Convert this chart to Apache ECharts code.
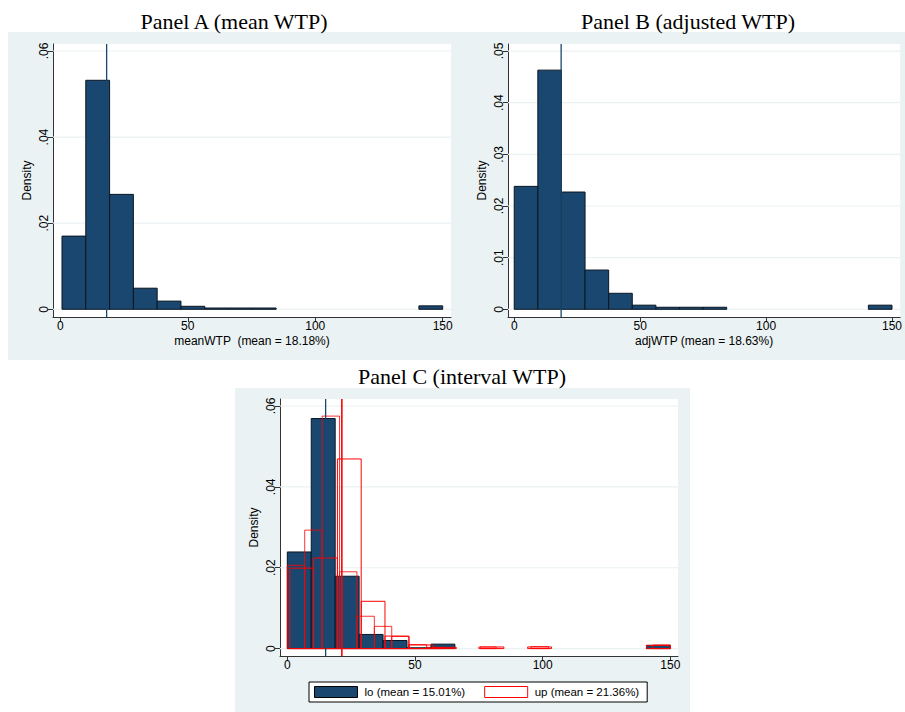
<!DOCTYPE html>
<html><head><meta charset="utf-8">
<script src="https://cdn.jsdelivr.net/npm/echarts@6/dist/echarts.min.js"></script>
<style>html,body{margin:0;padding:0;background:#fff}#c{width:905px;height:712px}</style>
</head><body><div id="c"></div>
<script>
// ---------- data ----------
// Panel A: meanWTP histogram (16 bins)
const aBinStart = 0.67, aBinWidth = 9.333;
const aDensity = [0.0170, 0.0532, 0.0267, 0.0049, 0.0019, 0.0007, 0.0003, 0.0003, 0.0003, 0, 0, 0, 0, 0, 0, 0.0008];
const aMean = 18.18;
// Panel B: adjWTP histogram (16 bins)
const bBinStart = 0, bBinWidth = 9.375;
const bDensity = [0.0238, 0.0463, 0.0227, 0.0076, 0.0031, 0.0008, 0.0004, 0.0004, 0.0004, 0, 0, 0, 0, 0, 0, 0.0008];
const bMean = 18.63;
// Panel C: interval WTP, lo and up
const loBinStart = 0, loBinWidth = 9.375;
const loDensity = [0.0239, 0.0569, 0.0179, 0.0035, 0.0020, 0.0002, 0.0011, 0, 0, 0, 0, 0, 0, 0, 0, 0.0008];
const upBinStart1 = 0, upBinWidth1 = 6.818;
const upDensity1 = [0.0206, 0.0293, 0.0575, 0.0190, 0.0080, 0.0055, 0.0030, 0.0010, 0.0003, 0, 0, 0.0004, 0, 0, 0.0005, 0, 0, 0, 0, 0, 0, 0.0009];
const upBinStart2 = 1.0, upBinWidth2 = 9.3125;
const upDensity2 = [0.0199, 0.0224, 0.0469, 0.0117, 0.0031, 0.0009, 0.0003, 0, 0.0004, 0, 0.0004, 0, 0, 0, 0, 0.0008];
const loMean = 15.01, upMean = 21.36;
// ticks / labels
const xTicks = [0, 50, 100, 150];
const yTicksA = [0, 0.02, 0.04, 0.06];
const yTicksB = [0, 0.01, 0.02, 0.03, 0.04, 0.05];
const yTicksC = [0, 0.02, 0.04, 0.06];
const titles = ['Panel A (mean WTP)', 'Panel B (adjusted WTP)', 'Panel C (interval WTP)'];
const xNames = ['meanWTP  (mean = 18.18%)', 'adjWTP (mean = 18.63%)', ''];
const loName = 'lo (mean = 15.01%)', upName = 'up (mean = 21.36%)';

// ---------- styling ----------
const FONT = '"Liberation Sans", Arial, sans-serif';
const SERIF = '"Liberation Serif", "Times New Roman", serif';
const NAVY = '#1a476f', BG = '#eaf2f3', RED = '#ff0000', AX = '#333';

function hist(start, width, dens) {
  return dens.map((d, i) => [start + i * width, start + (i + 1) * width, d]).filter(r => r[2] > 0);
}
function barRender(fill, stroke, lw, opacity) {
  return function (params, api) {
    const p0 = api.coord([api.value(0), 0]);
    const p1 = api.coord([api.value(1), api.value(2)]);
    return { type: 'rect', shape: { x: p0[0], y: p1[1], width: p1[0] - p0[0], height: p0[1] - p1[1] },
      style: { fill: fill, stroke: stroke, lineWidth: lw, opacity: opacity } };
  };
}
function gridRender(params, api) {
  const cs = params.coordSys;
  const y = api.coord([0, api.value(1)])[1];
  return { type: 'line', shape: { x1: cs.x, y1: y, x2: cs.x + cs.width, y2: y }, style: { stroke: BG, lineWidth: 1.2 } };
}
function vlineRender(color, w) {
  return function (params, api) {
    const cs = params.coordSys;
    const x = api.coord([api.value(0), 0])[0];
    return { type: 'line', shape: { x1: x, y1: cs.y, x2: x, y2: cs.y + cs.height }, style: { stroke: color, lineWidth: w } };
  };
}
function xAx(gi, min, max, name) {
  return { type: 'value', gridIndex: gi, min: min, max: max, name: name, nameLocation: 'middle', nameGap: 18,
    nameTextStyle: { fontFamily: FONT, fontSize: 12, color: '#000' },
    axisLine: { show: true, onZero: false, lineStyle: { color: AX, width: 1 } },
    axisTick: { show: true, length: 5, customValues: xTicks, lineStyle: { color: AX } },
    axisLabel: { customValues: xTicks, fontFamily: FONT, fontSize: 12, color: '#000', margin: 3 },
    splitLine: { show: false } };
}
function yAx(gi, min, max, ticks) {
  return { type: 'value', gridIndex: gi, min: min, max: max, name: 'Density', nameLocation: 'middle', nameGap: 20, nameRotate: 90,
    nameTextStyle: { fontFamily: FONT, fontSize: 12, color: '#000' },
    axisLine: { show: true, onZero: false, lineStyle: { color: AX, width: 1 } },
    axisTick: { show: true, length: 5, customValues: ticks, lineStyle: { color: AX } },
    axisLabel: { customValues: ticks, rotate: 90, fontFamily: FONT, fontSize: 12, color: '#000', margin: 3,
      formatter: v => v === 0 ? '0' : '.' + String(Math.round(v * 100)).padStart(2, '0') },
    splitLine: { show: false } };
}

const grids = [
  { left: 53, top: 44, width: 398, height: 273 },
  { left: 508, top: 44, width: 397, height: 273 },
  { left: 280, top: 399, width: 398, height: 257 }
].map(g => Object.assign(g, { show: true, backgroundColor: '#fff', borderWidth: 0, containLabel: false }));

const series = [];
function addPanel(gi, yTicks) {
  series.push({ type: 'custom', name: 'grid' + gi, xAxisIndex: gi, yAxisIndex: gi, z: 1, silent: true,
    renderItem: gridRender, encode: { x: 0, y: 1 }, data: yTicks.map(v => [0, v]) });
}
addPanel(0, yTicksA); addPanel(1, yTicksB); addPanel(2, yTicksC);

series.push({ type: 'custom', name: 'meanWTP', xAxisIndex: 0, yAxisIndex: 0, z: 3,
  renderItem: barRender(NAVY, '#0b1622', 1, 1), encode: { x: [0, 1], y: 2 }, data: hist(aBinStart, aBinWidth, aDensity) });
series.push({ type: 'custom', name: 'adjWTP', xAxisIndex: 1, yAxisIndex: 1, z: 3,
  renderItem: barRender(NAVY, '#0b1622', 1, 1), encode: { x: [0, 1], y: 2 }, data: hist(bBinStart, bBinWidth, bDensity) });
series.push({ type: 'custom', name: loName, xAxisIndex: 2, yAxisIndex: 2, z: 3, itemStyle: { color: NAVY },
  renderItem: barRender(NAVY, '#0b1622', 1, 1), encode: { x: [0, 1], y: 2 }, data: hist(loBinStart, loBinWidth, loDensity) });
series.push({ type: 'custom', name: upName, xAxisIndex: 2, yAxisIndex: 2, z: 4, itemStyle: { color: RED },
  renderItem: barRender('none', RED, 1, 0.8), encode: { x: [0, 1], y: 2 }, data: hist(upBinStart1, upBinWidth1, upDensity1) });
series.push({ type: 'custom', name: upName, xAxisIndex: 2, yAxisIndex: 2, z: 4, itemStyle: { color: RED },
  renderItem: barRender('none', RED, 1, 1), encode: { x: [0, 1], y: 2 }, data: hist(upBinStart2, upBinWidth2, upDensity2) });

series.push({ type: 'custom', name: 'meanA', xAxisIndex: 0, yAxisIndex: 0, z: 5, silent: true,
  renderItem: vlineRender(NAVY, 1.3), encode: { x: 0, y: 1 }, data: [[aMean, 0]] });
series.push({ type: 'custom', name: 'meanB', xAxisIndex: 1, yAxisIndex: 1, z: 5, silent: true,
  renderItem: vlineRender(NAVY, 1.3), encode: { x: 0, y: 1 }, data: [[bMean, 0]] });
series.push({ type: 'custom', name: 'meanLo', xAxisIndex: 2, yAxisIndex: 2, z: 5, silent: true,
  renderItem: vlineRender(NAVY, 1.3), encode: { x: 0, y: 1 }, data: [[loMean, 0]] });
series.push({ type: 'custom', name: 'meanUp', xAxisIndex: 2, yAxisIndex: 2, z: 5, silent: true,
  renderItem: vlineRender(RED, 1.6), encode: { x: 0, y: 1 }, data: [[upMean, 0]] });

const TFONT = '22px ' + SERIF;
const option = {
  animation: false,
  backgroundColor: '#fff',
  graphic: [
    { type: 'rect', z: -10, silent: true, shape: { x: 8, y: 32, width: 897, height: 328 }, style: { fill: BG } },
    { type: 'rect', z: -10, silent: true, shape: { x: 235, y: 388, width: 455, height: 324 }, style: { fill: BG } },
    { type: 'text', x: 234, y: 21, style: { text: titles[0], font: TFONT, fill: '#000', textAlign: 'center', textVerticalAlign: 'middle' } },
    { type: 'text', x: 688, y: 21, style: { text: titles[1], font: TFONT, fill: '#000', textAlign: 'center', textVerticalAlign: 'middle' } },
    { type: 'text', x: 462, y: 376, style: { text: titles[2], font: TFONT, fill: '#000', textAlign: 'center', textVerticalAlign: 'middle' } }
  ],
  grid: grids,
  xAxis: [xAx(0, -2.86, 153.26, xNames[0]), xAx(1, -2.47, 153.26, xNames[1]), xAx(2, -2.86, 153.0, xNames[2])],
  yAxis: [yAx(0, -0.00179, 0.06163, yTicksA), yAx(1, -0.00149, 0.05136, yTicksB), yAx(2, -0.00183, 0.06173, yTicksC)],
  legend: {
    left: 309, top: 682, orient: 'horizontal', padding: [4, 8, 4, 5], itemGap: 19, itemWidth: 43, itemHeight: 11,
    backgroundColor: '#fff', borderColor: '#000', borderWidth: 1, borderRadius: 0, selectedMode: false,
    textStyle: { fontFamily: FONT, fontSize: 11.5, color: '#000', padding: [0, 0, 0, 2] },
    data: [
      { name: loName, icon: 'rect', itemStyle: { color: NAVY, borderColor: '#000', borderWidth: 1 } },
      { name: upName, icon: 'rect', itemStyle: { color: '#fff', borderColor: RED, borderWidth: 1 } }
    ]
  },
  series: series
};
const chart = echarts.init(document.getElementById('c'), null, { renderer: 'svg', width: 905, height: 712 });
chart.setOption(option);
</script></body></html>
